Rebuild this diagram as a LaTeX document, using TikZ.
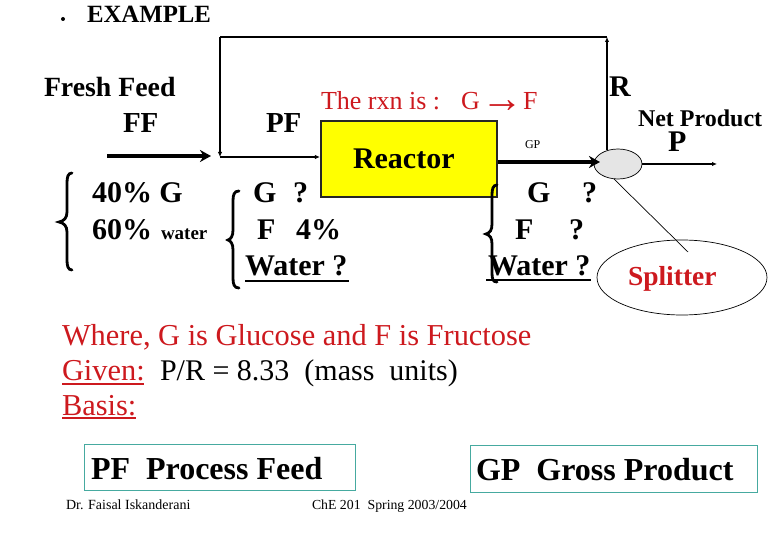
\documentclass[tikz,border=0pt]{standalone}
\usepackage{fontspec}
\setmainfont{Liberation Serif}
\usetikzlibrary{arrows.meta,shapes.geometric}
\definecolor{rd}{RGB}{205,25,30}
\definecolor{tealb}{RGB}{70,170,160}
\definecolor{yel}{RGB}{255,255,0}
\newcommand{\fsz}[1]{\fontsize{#1}{#1}\selectfont}
\tikzset{
  t/.style={anchor=base west,inner sep=0pt,outer sep=0pt,text=black},
  b/.style={t,font=\bfseries},
  red/.style={text=rd},
  flow/.style={line width=1.4pt},
  small tip/.style={-{Latex[length=5pt,width=4.5pt]}},
  heavy/.style={line width=3.2pt,-{Stealth[length=11pt,width=12pt]}},
  brace/.style={line width=2.8pt,line cap=round},
  rul/.style={line width=2pt},
  legend/.style={draw=tealb,line width=0.9pt,fill=white,inner sep=0pt}
}
\begin{document}
\begin{tikzpicture}[x=1pt,y=-1pt]
\useasboundingbox (0,0) rectangle (780,540);
% shapes
\node[draw=black!85,line width=2.2pt,fill=yel,minimum width=176pt,minimum height=76pt,inner sep=0pt] (reactor) at (409,159) {};
\node[ellipse,draw=black,line width=0.7pt,fill=black!10,minimum width=48pt,minimum height=30pt,inner sep=0pt] (split) at (618,164) {};
\node[ellipse,draw=black,line width=0.7pt,minimum width=170pt,minimum height=75pt,inner sep=0pt] (bigsplit) at (682,277.5) {};
% coordinates
\coordinate (ffs) at (107,156);
\coordinate (ffe) at (211,156);
\coordinate (mix) at (220,157);
\coordinate (top) at (220,37);
\coordinate (topr) at (607,37);
\coordinate (rbase) at (607,150);
\coordinate (gps) at (498,162);
\coordinate (gpe) at (600,162);
\coordinate (pe) at (717,164);
\coordinate (splt) at (614,179);
\coordinate (spltb) at (688,252);
% connectors
\draw[heavy] (ffs) -- (ffe);
\draw[flow,small tip] (mix) -- (reactor.west |- mix);
\draw[flow,small tip] (rbase) -- (topr);
\draw[flow] (topr) -- (top);
\draw[flow,small tip] (top) -- (mix);
\draw[heavy] (gps) -- (gpe);
\draw[flow,small tip] (split.east) -- (pe);
\draw[line width=0.7pt] (splt) -- (spltb);
% bullet
\fill (63,19) circle (2pt);
% texts
\node[b,font=\bfseries\fsz{24.8}] (ex) at (87,23) {EXAMPLE};
\node[b,font=\bfseries\fsz{27.8}] (ff1) at (44,97) {Fresh Feed};
\node[b,font=\bfseries\fsz{29}] (ff) at (123,133) {FF};
\node[b,font=\bfseries\fsz{29}] (pf) at (266,133) {PF};
\node[b,font=\bfseries\fsz{30}] (r) at (609,97) {R};
\node[t,red,font=\fsz{26}] (rxn) at (321,110) {The rxn is :};
\node[t,red,font=\fsz{26}] (rxng) at (461,110) {G};
\node[t,red,font=\fsz{42}] (rxna) at (481,113) {→};
\node[t,red,font=\fsz{26}] (rxnf) at (523,110) {F};
\node[b,font=\bfseries\fsz{30}] (rt) at (353,169) {Reactor};
\node[t,font=\fsz{12}] (gp) at (525,149) {GP};
\node[b,font=\bfseries\fsz{24}] (np) at (638,127) {Net Product};
\node[b,font=\bfseries\fsz{30}] (p) at (668,152) {P};
\node[b,font=\bfseries\fsz{30}] (a1) at (92,203) {40\% G};
\node[b,font=\bfseries\fsz{30}] (a2) at (92,240) {60\%};
\node[b,font=\bfseries\fsz{19}] (a3) at (161,240) {water};
\node[b,font=\bfseries\fsz{30}] (b1) at (253,203) {G};
\node[b,font=\bfseries\fsz{30}] (b1q) at (293,203) {?};
\node[b,font=\bfseries\fsz{30}] (b2) at (257,240) {F};
\node[b,font=\bfseries\fsz{30}] (b2p) at (296,240) {4\%};
\node[b,font=\bfseries\fsz{30}] (b3) at (245,276) {Water ?};
\node[b,font=\bfseries\fsz{30}] (c1) at (527,203) {G};
\node[b,font=\bfseries\fsz{30}] (c1q) at (582,203) {?};
\node[b,font=\bfseries\fsz{30}] (c2) at (515,240) {F};
\node[b,font=\bfseries\fsz{30}] (c2q) at (569,240) {?};
\node[b,font=\bfseries\fsz{30}] (c3) at (488,276) {Water ?};
\node[b,red,font=\bfseries\fsz{27.5}] (spl) at (628,286) {Splitter};
\draw[rul] (245,281) -- (349,281);
\draw[rul] (486,280) -- (591,280);
% braces
\draw[brace] (72,173) .. controls (68,173) and (67,177) .. (67,183) -- (67,212) .. controls (67,218) and (64,221) .. (59,222) .. controls (64,223) and (67,226) .. (67,232) -- (67,260) .. controls (67,266) and (68,270) .. (72,270);
\draw[brace] (239,191) .. controls (234,191) and (233,195) .. (233,201) -- (233,230) .. controls (233,236) and (231,239) .. (228,240) .. controls (231,241) and (233,244) .. (233,250) -- (233,278) .. controls (233,284) and (234,288) .. (239,288);
\draw[brace] (497,185) .. controls (493,185) and (492,189) .. (492,195) -- (492,224) .. controls (492,230) and (490,233) .. (486,234) .. controls (490,235) and (492,238) .. (492,244) -- (492,273) .. controls (492,279) and (493,282) .. (497,282);
% lower text
\node[t,red,font=\fsz{30.4}] (w) at (62,345) {Where, G is Glucose and F is Fructose};
\node[t,red,font=\fsz{30.4}] (g) at (62,381) {Given:};
\node[t,font=\fsz{30}] (g2) at (160,381) {P/R = 8.33\ \ (mass\ \ units)};
\node[t,red,font=\fsz{30.4}] (bs) at (62,415) {Basis:};
\draw[rul,rd] (62,384) -- (144,384);
\draw[rul,rd] (62,418) -- (136,418);
\node[legend,minimum width=271pt,minimum height=46pt] (lg1) at (220,467) {};
\node[legend,minimum width=287pt,minimum height=47pt] (lg2) at (613.5,468.5) {};
\node[b,font=\bfseries\fsz{32}] (lt1) at (91,479) {PF\ \ Process Feed};
\node[b,font=\bfseries\fsz{32}] (lt2) at (476,480) {GP\ \ Gross Product};
\node[t,font=\fsz{14}] (f1) at (66,509) {Dr. Faisal Iskanderani};
\node[t,font=\fsz{13.8}] (f2) at (312,509) {ChE 201\ \ Spring 2003/2004};
\end{tikzpicture}
\end{document}
